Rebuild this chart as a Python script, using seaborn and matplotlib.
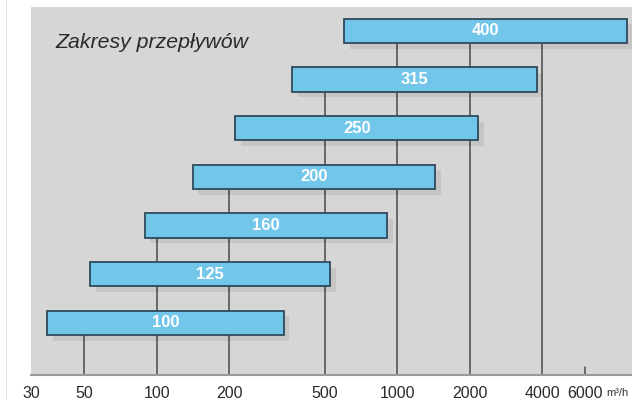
import numpy as np
import pandas as pd
import matplotlib
matplotlib.use("Agg")
import matplotlib.pyplot as plt
import matplotlib.patheffects as pe
import matplotlib.transforms as mtransforms
from matplotlib.lines import Line2D
import seaborn as sns

# Flow ranges per duct size (m3/h), top to bottom
sizes = ["400", "315", "250", "200", "160", "125", "100"]
flow_min = [600, 365, 212, 141, 89, 53, 35]
flow_max = [9000, 3800, 2170, 1440, 910, 525, 337]

tick_values = [30, 50, 100, 200, 500, 1000, 2000, 4000, 6000]
tick_labels = ["30", "50", "100", "200", "500", "1000", "2000", "4000", "6000"]
grid_values = [50, 100, 200, 500, 1000, 2000, 4000]

df = pd.DataFrame({"size": sizes,
                   "low": flow_min,
                   "span": np.array(flow_max) - np.array(flow_min)})

sns.set_theme(style="white")
plt.rcParams["font.family"] = ["Liberation Sans", "DejaVu Sans"]

fig = plt.figure(figsize=(6.32, 4.0), dpi=100)
ax = fig.add_axes([31 / 632, 25 / 400, 601 / 632, 368 / 400])
ax.set_facecolor("#d6d6d6")

# Range bars: left edge at the minimum flow, width up to the maximum
sns.barplot(data=df, x="span", y="size", left=df["low"].values, ax=ax,
            color="#72c6ea", saturation=1, width=0.5, errorbar=None,
            edgecolor="#2e4b5a", linewidth=1.3, zorder=3)
ax.set_xscale("log")
ax.set_xlim(30, 9450)
ax.set_ylim(7.07, -0.49)

shadow = [pe.SimplePatchShadow(offset=(4, -4), shadow_rgbFace="black", alpha=0.08),
          pe.Normal()]
for bar in ax.patches:
    bar.set_path_effects(shadow)

# Vertical lines run from the bottom up to the highest bar that covers them
for v in grid_values:
    top = min(i for i in range(len(sizes)) if flow_min[i] <= v <= flow_max[i])
    ax.vlines(v, top, 7.07, color="#4a4a4a", linewidth=1.1, zorder=1)
ax.axvline(6000, ymin=0, ymax=0.022, color="#4a4a4a", linewidth=1.1, zorder=1)

# Size labels centred on each bar
for i, s in enumerate(sizes):
    xc = np.sqrt(flow_min[i] * flow_max[i])
    ax.text(xc, i, s, color="white", fontsize=12, fontweight="bold",
            ha="center", va="center", zorder=4)

ax.set_xticks(tick_values)
ax.set_xticklabels(tick_labels)
ax.xaxis.set_minor_locator(matplotlib.ticker.NullLocator())
ax.tick_params(axis="x", length=0, pad=8, labelsize=11.5, labelcolor="#2a2a2a")
ax.set_yticks([])
ax.set_xlabel("")
ax.set_ylabel("")

for side in ["top", "right", "left"]:
    ax.spines[side].set_visible(False)
ax.spines["bottom"].set_color("#9a9a9a")
ax.spines["bottom"].set_linewidth(1.5)

trans = mtransforms.blended_transform_factory(ax.transData, ax.transAxes)
ax.text(7400, -0.048, "m³/h", transform=trans, fontsize=8, color="#333333",
        ha="left", va="center", clip_on=False)

ax.text(0.04, 0.889, "Zakresy przepływów", transform=ax.transAxes,
        fontsize=15.3, fontstyle="italic", color="#2a2a2a", va="baseline")

fig.add_artist(Line2D([6 / 632, 6 / 632], [0, 1], transform=fig.transFigure,
                      color="#e4e4e4", linewidth=0.8))

fig.savefig("out.png", dpi=100)
